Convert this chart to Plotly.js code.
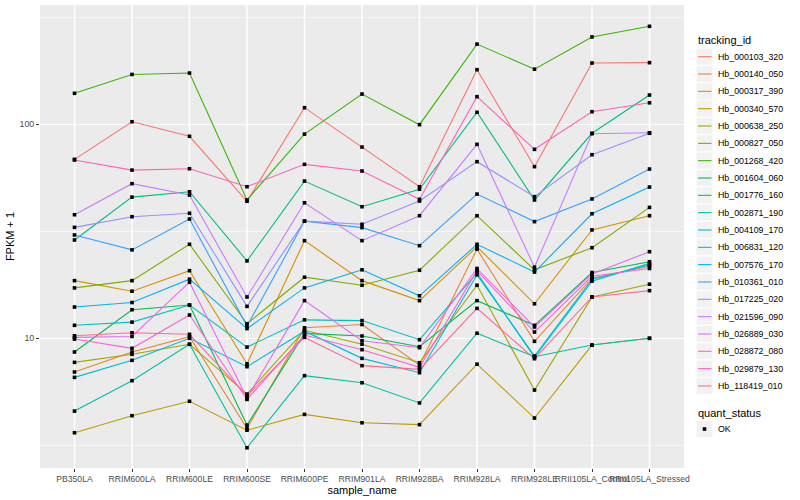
<!DOCTYPE html>
<html>
<head>
<meta charset="utf-8">
<script src="https://cdn.plot.ly/plotly-3.0.1.min.js"></script>
<style>html,body{margin:0;padding:0;background:#fff;} #chart{width:800px;height:500px;}</style>
</head>
<body>
<div id="chart"></div>
<script>
// ---- data (values are FPKM + 1) ----
const categories = ["PB350LA","RRIM600LA","RRIM600LE","RRIM600SE","RRIM600PE","RRIM901LA","RRIM928BA","RRIM928LA","RRIM928LE","RRII105LA_Control","RRII105LA_Stressed"];

const trackingIds = ["Hb_000103_320","Hb_000140_050","Hb_000317_390","Hb_000340_570","Hb_000638_250","Hb_000827_050","Hb_001268_420","Hb_001604_060","Hb_001776_160","Hb_002871_190","Hb_004109_170","Hb_006831_120","Hb_007576_170","Hb_010361_010","Hb_017225_020","Hb_021596_090","Hb_026889_030","Hb_028872_080","Hb_029879_130","Hb_118419_010"];

const hb_000103_320 = [68.6, 102.8, 87.9, 43.7, 119.6, 78.3, 51.1, 180, 63.4, 193.4, 194.1];
const hb_000140_050 = [6.96, 8.63, 10.17, 3.79, 11.2, 11.6, 7.5, 26.1, 9.68, 19.1, 21.7];
const hb_000317_390 = [18.6, 16.6, 20.7, 7.6, 28.6, 18.6, 15.0, 26.8, 14.5, 32.1, 37.4];
const hb_000340_570 = [3.62, 4.35, 5.08, 3.72, 4.41, 4.03, 3.95, 7.57, 4.24, 9.3, 10.0];
const hb_000638_250 = [7.72, 8.42, 9.38, 5.49, 10.9, 9.38, 7.69, 17.7, 5.73, 15.6, 17.9];
const hb_000827_050 = [17.2, 18.6, 27.5, 11.7, 19.3, 17.7, 20.8, 37.4, 20.9, 26.5, 40.9];
const hb_001268_420 = [139.6, 171, 173.6, 44.3, 90, 138.5, 99.6, 237, 181, 256, 287];
const hb_001604_060 = [8.63, 13.6, 14.3, 3.93, 10.55, 10.25, 9.14, 15.0, 11.5, 20.3, 22.8];
const hb_001776_160 = [28.8, 45.7, 48.4, 23.0, 54.3, 41.2, 49.7, 113.8, 44.3, 90.8, 137];
const hb_002871_190 = [4.57, 6.34, 9.38, 3.08, 6.69, 6.2, 4.99, 10.56, 8.2, 9.3, 10.0];
const hb_004109_170 = [11.5, 11.9, 14.3, 9.1, 12.2, 12.1, 9.85, 20.2, 8.15, 18.5, 22.4];
const hb_006831_120 = [6.57, 7.89, 10.0, 7.37, 10.8, 8.06, 6.91, 19.8, 8.27, 18.9, 22.0];
const hb_007576_170 = [14.0, 14.7, 18.9, 11.1, 17.2, 20.9, 15.8, 27.5, 20.4, 38.2, 50.9];
const hb_010361_010 = [30.4, 25.9, 36.1, 11.4, 35.3, 32.9, 27.1, 47.2, 35.1, 44.8, 61.8];
const hb_017225_020 = [33.0, 37.0, 38.4, 14.1, 35.3, 34.1, 43.8, 66.9, 45.9, 72.1, 90.8];
const hb_021596_090 = [37.8, 52.8, 46.7, 15.6, 43.0, 28.6, 37.4, 80.6, 21.5, 90.4, 91.3];
const hb_026889_030 = [10.1, 10.2, 18.3, 5.26, 15.0, 9.74, 9.04, 21.2, 11.3, 20.0, 25.4];
const hb_028872_080 = [9.92, 8.98, 12.85, 5.18, 10.36, 8.85, 7.32, 20.7, 10.7, 19.5, 21.2];
const hb_029879_130 = [68.1, 61.1, 62.0, 51.1, 65.0, 60.5, 44.6, 134.6, 76.4, 114.5, 126];
const hb_118419_010 = [10.28, 10.62, 10.44, 5.38, 10.1, 7.45, 7.16, 13.8, 8.03, 15.6, 16.7];

const seriesValues = [hb_000103_320, hb_000140_050, hb_000317_390, hb_000340_570, hb_000638_250, hb_000827_050, hb_001268_420, hb_001604_060, hb_001776_160, hb_002871_190, hb_004109_170, hb_006831_120, hb_007576_170, hb_010361_010, hb_017225_020, hb_021596_090, hb_026889_030, hb_028872_080, hb_029879_130, hb_118419_010];

const quantStatus = ["OK"];
const yTickVals = [10, 100];
const yTickText = ["10", "100"];
const yMinorVals = [3.1623, 31.623, 316.23];

// ggplot2 default hue palette for 20 levels
const colors = ["#F8766D","#EA8331","#D89000","#C09B00","#A3A500","#7CAE00","#39B600","#00BB4E","#00BF7D","#00C1A3","#00BFC4","#00BAE0","#00B0F6","#35A2FF","#9590FF","#C77CFF","#E76BF3","#FA62DB","#FF62BC","#FF6C91"];

const FONT = "Liberation Sans, Arial, Helvetica, sans-serif";

// ---- traces ----
const traces = trackingIds.map((id, i) => ({
  type: "scatter", mode: "lines", name: id,
  x: categories, y: seriesValues[i],
  line: {color: colors[i], width: 1.1},
  showlegend: false, hoverinfo: "x+y+name"
}));
// points on top (quant_status = OK)
const allX = [], allY = [];
seriesValues.forEach(v => v.forEach((val, j) => { allX.push(categories[j]); allY.push(val); }));
traces.push({
  type: "scatter", mode: "markers", name: quantStatus[0],
  x: allX, y: allY,
  marker: {symbol: "square", size: 3.6, color: "#000000", line: {width: 0}},
  showlegend: false, hoverinfo: "skip"
});

// ---- geometry of the panel in pixels ----
const W = 800, H = 500;
const M = {l: 40, r: 116, t: 5, b: 32};
const PW = W - M.l - M.r, PH = H - M.t - M.b;
const px2x = px => (px - M.l) / PW;
const py2y = py => (H - M.b - py) / PH;

const shapes = [], annotations = [];
// vertical major grid lines at every category (white, under the data)
categories.forEach(c => {
  shapes.push({type: "line", xref: "x", yref: "paper", x0: c, x1: c, y0: 0, y1: 1,
    line: {color: "#FFFFFF", width: 1.5}, layer: "below"});
});

// ---- hand-built ggplot-like legend ----
annotations.push({xref: "paper", yref: "paper", x: px2x(696), y: py2y(40), xanchor: "left", yanchor: "middle",
  text: "tracking_id", showarrow: false, font: {family: FONT, size: 11, color: "#000"}});
const step = 17.33, firstY = 56.7;
trackingIds.forEach((id, i) => {
  const cy = firstY + i * step;
  shapes.push({type: "rect", xref: "paper", yref: "paper",
    x0: px2x(696), x1: px2x(713), y0: py2y(cy - 8.6), y1: py2y(cy + 8.6),
    fillcolor: "#F2F2F2", line: {color: "#FFFFFF", width: 1}, layer: "above"});
  shapes.push({type: "line", xref: "paper", yref: "paper",
    x0: px2x(698), x1: px2x(711.5), y0: py2y(cy), y1: py2y(cy),
    line: {color: colors[i], width: 1.1}, layer: "above"});
  annotations.push({xref: "paper", yref: "paper", x: px2x(716), y: py2y(cy), xanchor: "left", yanchor: "middle",
    text: id, showarrow: false, font: {family: FONT, size: 8.8, color: "#000"}});
});
annotations.push({xref: "paper", yref: "paper", x: px2x(696), y: py2y(412.5), xanchor: "left", yanchor: "middle",
  text: "quant_status", showarrow: false, font: {family: FONT, size: 11, color: "#000"}});
{
  const cy = 429;
  shapes.push({type: "rect", xref: "paper", yref: "paper",
    x0: px2x(696), x1: px2x(713), y0: py2y(cy - 8.6), y1: py2y(cy + 8.6),
    fillcolor: "#F2F2F2", line: {color: "#FFFFFF", width: 1}, layer: "above"});
  shapes.push({type: "rect", xref: "paper", yref: "paper",
    x0: px2x(702.7), x1: px2x(706.3), y0: py2y(cy - 1.8), y1: py2y(cy + 1.8),
    fillcolor: "#000", line: {width: 0}, layer: "above"});
  annotations.push({xref: "paper", yref: "paper", x: px2x(716), y: py2y(cy), xanchor: "left", yanchor: "middle",
    text: quantStatus[0], showarrow: false, font: {family: FONT, size: 8.8, color: "#000"}});
}

const layout = {
  width: W, height: H,
  margin: M,
  paper_bgcolor: "#FFFFFF", plot_bgcolor: "#EBEBEB",
  font: {family: FONT, color: "#000"},
  showlegend: false,
  xaxis: {
    type: "category", categoryarray: categories, range: [-0.6, 10.6],
    tickmode: "array", tickvals: categories, ticktext: categories,
    showgrid: false,
    zeroline: false, showline: false,
    ticks: "outside", ticklen: 3, tickcolor: "#333333", tickwidth: 1,
    tickangle: 0,
    tickfont: {family: FONT, size: 8.6, color: "#4D4D4D"},
    title: {text: "sample_name", font: {family: FONT, size: 11, color: "#000"}, standoff: 0},
    automargin: false, fixedrange: true
  },
  yaxis: {
    type: "log", range: [0.394, 2.5575],
    tickvals: yTickVals, ticktext: yTickText,
    showgrid: true, gridcolor: "#FFFFFF", gridwidth: 1.1,
    minor: {tickvals: yMinorVals, showgrid: true, gridcolor: "#FFFFFF", gridwidth: 0.55, ticks: ""},
    zeroline: false, showline: false,
    ticks: "outside", ticklen: 3, tickcolor: "#333333", tickwidth: 1,
    tickfont: {family: FONT, size: 8.8, color: "#4D4D4D"},
    title: {text: "FPKM + 1", font: {family: FONT, size: 11, color: "#000"}, standoff: 2},
    automargin: false, fixedrange: true
  },
  shapes: shapes,
  annotations: annotations
};

Plotly.newPlot("chart", traces, layout, {displayModeBar: false, staticPlot: true});
</script>
</body>
</html>
